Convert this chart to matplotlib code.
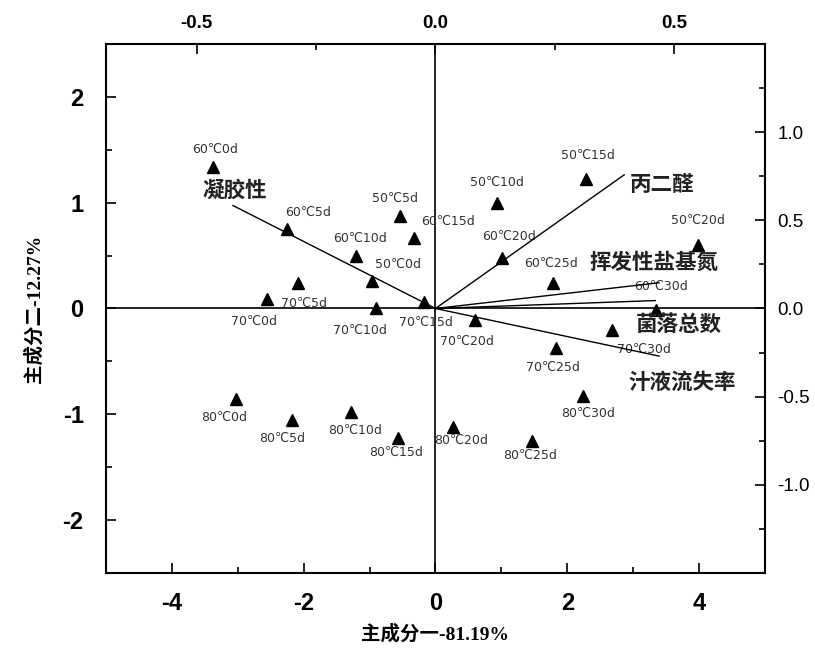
import matplotlib
matplotlib.use("Agg")
import matplotlib.pyplot as plt
from matplotlib.ticker import MultipleLocator, FormatStrFormatter

plt.rcParams['font.family'] = ['Liberation Sans', 'Noto Sans CJK SC']
plt.rcParams['axes.unicode_minus'] = False

# sample scores (PC1, PC2)
samples = ['60℃0d', '60℃5d', '50℃5d', '60℃15d', '60℃10d', '50℃0d', '70℃5d', '70℃0d',
           '70℃10d', '70℃15d', '70℃20d', '50℃10d', '50℃15d', '60℃20d', '60℃25d', '50℃20d',
           '60℃30d', '70℃30d', '70℃25d', '80℃30d', '80℃25d', '80℃20d', '80℃0d', '80℃5d',
           '80℃10d', '80℃15d']
pc1 = [-3.38, -2.26, -0.54, -0.33, -1.20, -0.96, -2.09, -2.56,
       -0.90, -0.18, 0.60, 0.93, 2.29, 1.01, 1.79, 3.98,
       3.34, 2.68, 1.83, 2.24, 1.47, 0.26, -3.02, -2.18,
       -1.28, -0.57]
pc2 = [1.34, 0.75, 0.87, 0.67, 0.50, 0.26, 0.24, 0.09,
       0.00, 0.06, -0.11, 1.00, 1.22, 0.48, 0.24, 0.60,
       -0.01, -0.20, -0.37, -0.83, -1.25, -1.12, -0.86, -1.05,
       -0.98, -1.22]

# label offsets in pixels (layout)
lab_off = [(2, 17), (22, 17), (-5, 18), (34, 16), (4, 17), (26, 17), (6, -20), (-13, -22),
           (-16, -22), (2, -20), (-8, -21), (0, 20), (2, 24), (7, 21), (-2, 20), (0, 25),
           (5, 23), (32, -20), (-3, -20), (5, -17), (-2, -15), (8, -13), (-12, -18), (-10, -19),
           (4, -18), (-2, -15)]

# variable loadings
variables = ['凝胶性', '丙二醛', '挥发性盐基氮', '菌落总数', '汁液流失率']
load1 = [-0.424, 0.395, 0.468, 0.46, 0.468]
load2 = [0.584, 0.758, 0.146, 0.045, -0.27]
var_lab_pos = [(-3.04, 1.12), (3.44, 1.17), (3.31, 0.44), (3.69, -0.15), (3.75, -0.70)]

fig = plt.figure(figsize=(8.15, 6.52), dpi=100)
pos = [0.130, 0.1212, 0.8087, 0.8113]
ax = fig.add_axes(pos)
ax.set_xlim(-5, 5)
ax.set_ylim(-2.5, 2.5)
ax.axhline(0, color='black', lw=1.2, zorder=1)
ax.axvline(0, color='black', lw=1.2, zorder=1)
ax.plot(pc1, pc2, '^', color='black', markersize=8, zorder=3)
for name, x, y, off in zip(samples, pc1, pc2, lab_off):
    ax.annotate(name, (x, y), xytext=off, textcoords='offset pixels',
                ha='center', va='center', fontsize=9, color='#333333',
                family=['DejaVu Sans', 'Noto Sans CJK SC'])
for name, p in zip(variables, var_lab_pos):
    ax.text(p[0], p[1], name, ha='center', va='center', fontsize=15.5,
            fontweight='bold', family=['Noto Sans CJK SC'], color='#222222')

ax.xaxis.set_major_locator(MultipleLocator(2))
ax.xaxis.set_minor_locator(MultipleLocator(1))
ax.yaxis.set_major_locator(MultipleLocator(1))
ax.yaxis.set_minor_locator(MultipleLocator(0.5))
ax.tick_params(which='both', direction='in', width=1.2, top=False, right=False)
ax.tick_params(which='major', length=7, labelsize=17)
ax.tick_params(axis='x', which='major', pad=14)
ax.tick_params(axis='y', which='major', pad=16)
ax.tick_params(which='minor', length=4)
for lab in ax.get_xticklabels() + ax.get_yticklabels():
    lab.set_fontweight('bold')
for s in ax.spines.values():
    s.set_linewidth(1.5)

ax.set_xlabel('主成分一-81.19%', fontsize=14, fontweight='bold',
              family=['Liberation Serif', 'Noto Sans CJK SC'], labelpad=6)
ax.set_ylabel('主成分二-12.27%', fontsize=14, fontweight='bold',
              family=['Liberation Serif', 'Noto Sans CJK SC'], labelpad=14)

# loading axes (top / right)
ax2 = fig.add_axes(pos, frameon=False)
ax2.patch.set_visible(False)
ax2.set_xlim(-0.69, 0.69)
ax2.set_ylim(-1.5, 1.5)
for lx, ly in zip(load1, load2):
    ax2.plot([0, lx], [0, ly], color='black', lw=1.0, zorder=2)
ax2.xaxis.tick_top()
ax2.yaxis.tick_right()
ax2.xaxis.set_major_locator(MultipleLocator(0.5))
ax2.xaxis.set_minor_locator(MultipleLocator(0.25))
ax2.yaxis.set_major_locator(MultipleLocator(0.5))
ax2.yaxis.set_minor_locator(MultipleLocator(0.25))
ax2.xaxis.set_major_formatter(FormatStrFormatter('%.1f'))
ax2.yaxis.set_major_formatter(FormatStrFormatter('%.1f'))
ax2.set_yticks([-1.0, -0.5, 0.0, 0.5, 1.0])
ax2.tick_params(which='both', direction='in', width=1.2)
ax2.tick_params(which='major', length=7, labelsize=13.5, pad=9)
ax2.tick_params(which='minor', length=4)
for lab in ax2.get_xticklabels():
    lab.set_fontweight('bold')

fig.savefig('out.png', dpi=100)
